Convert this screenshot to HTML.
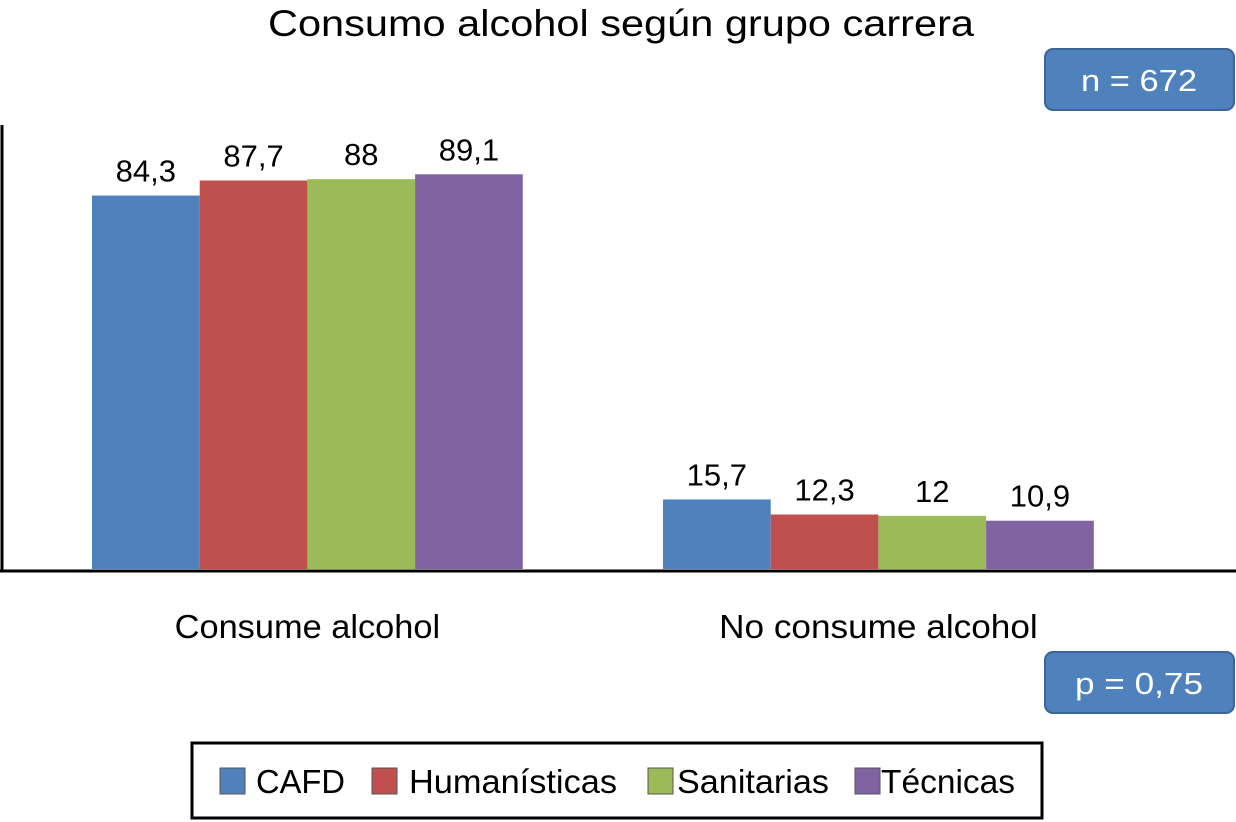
<!DOCTYPE html>
<html><head><meta charset="utf-8"><style>
body{margin:0;background:#fff}
svg{display:block;font-family:"Liberation Sans",sans-serif}
</style></head><body>
<svg id="c" width="1236" height="822">
<text x="268" y="36" font-size="37" textLength="706" lengthAdjust="spacingAndGlyphs">Consumo alcohol según grupo carrera</text>
<rect x="1045" y="49" width="189" height="61" rx="8" fill="#4f81bd" stroke="#3a6596" stroke-width="2"/>
<text x="1081" y="91" font-size="31" fill="#fff" textLength="116" lengthAdjust="spacingAndGlyphs">n = 672</text>
<rect x="1045" y="652" width="189" height="61" rx="8" fill="#4f81bd" stroke="#3a6596" stroke-width="2"/>
<text x="1075" y="694" font-size="31" fill="#fff" textLength="128" lengthAdjust="spacingAndGlyphs">p = 0,75</text>
<g id="bars"></g>
<line x1="2" y1="125" x2="2" y2="572" stroke="#000" stroke-width="3"/>
<line x1="0" y1="571" x2="1236" y2="571" stroke="#000" stroke-width="3"/>
<rect x="192" y="743" width="850" height="75" fill="none" stroke="#000" stroke-width="3"/>
<g id="legend"></g>
</svg>
<script>
const categories=["Consume alcohol","No consume alcohol"];
const seriesNames=["CAFD","Humanísticas","Sanitarias","Técnicas"];
const cafd=[84.3,15.7];
const humanisticas=[87.7,12.3];
const sanitarias=[88,12];
const tecnicas=[89.1,10.9];
const valueLabels=[["84,3","15,7"],["87,7","12,3"],["88","12"],["89,1","10,9"]];
const series=[cafd,humanisticas,sanitarias,tecnicas];
const colors=["#4f81bd","#c0504d","#9bbb59","#8064a2"];
const NS="http://www.w3.org/2000/svg";
const y0=569,k=4.43,barW=107.7,groupX=[92,663];
const yScale=v=>y0-v*k;
const g=document.getElementById('bars');
function mk(t,a,p){const e=document.createElementNS(NS,t);for(const key in a)e.setAttribute(key,a[key]);(p||g).appendChild(e);return e;}
categories.forEach((c,ci)=>{
  series.forEach((s,si)=>{
    const x=groupX[ci]+si*barW, y=yScale(s[ci]);
    const r=mk('rect',{x:x,y:y,width:barW,height:y0-y,fill:colors[si]});
    
    
    const t=mk('text',{x:x+barW/2,y:y-14,'font-size':31,'text-anchor':'middle'});
    t.textContent=valueLabels[si][ci];
    
    
  });
  const t=mk('text',{x:groupX[ci]+2*barW,y:638,'font-size':33,'text-anchor':'middle',textLength:c.length*17.7,lengthAdjust:'spacingAndGlyphs'});
  t.textContent=c;
  
  
});
const lg=document.getElementById('legend');
const swX=[220,372,648,855],txX=[256,409,677,881],txW=[89,208,152,134];
seriesNames.forEach((n,i)=>{
  const r=mk('rect',{x:swX[i],y:768,width:25,height:26,fill:colors[i],stroke:'#555','stroke-width':1},lg);
  
  
  const t=mk('text',{x:txX[i],y:793,'font-size':33,textLength:txW[i],lengthAdjust:'spacingAndGlyphs'},lg);
  t.textContent=n;
  
  
});
</script>
</body></html>
